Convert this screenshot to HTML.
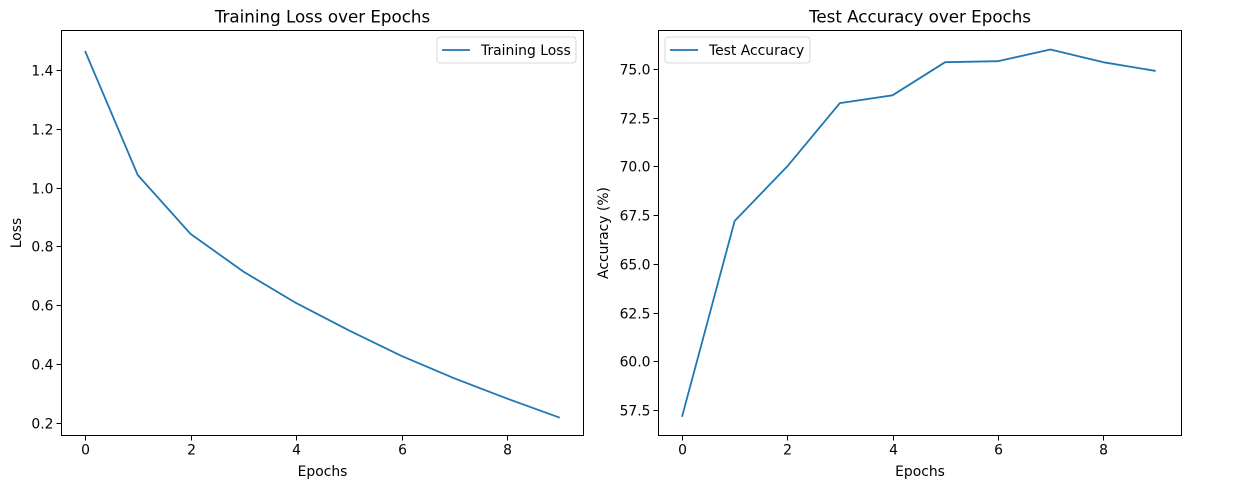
<!DOCTYPE html>
<html><head><meta charset="utf-8"><style>
body{margin:0;background:#fff;}
svg{display:block;font-family:"DejaVu Sans","Liberation Sans",sans-serif;}
</style></head><body>
<svg id="c" width="1241" height="494"></svg>
<script>
const epochs=[0,1,2,3,4,5,6,7,8,9];
const lossValues=[1.465,1.043,0.843,0.715,0.608,0.515,0.428,0.352,0.283,0.218];
const accValues=[57.15,67.2,70.0,73.25,73.65,75.35,75.4,76.0,75.35,74.9];
const xTicks=[0,2,4,6,8];
const lossTicks=[0.2,0.4,0.6,0.8,1.0,1.2,1.4];
const accTicks=[57.5,60.0,62.5,65.0,67.5,70.0,72.5,75.0];
const NS='http://www.w3.org/2000/svg';
const svg=document.getElementById('c');
function mk(t,a,p){const e=document.createElementNS(NS,t);for(const k in a)e.setAttribute(k,a[k]);(p||svg).appendChild(e);return e;}
function panel(o){
  const g=mk('g',{});
  
  
  const L=o.L,R=o.R,T=30.5,B=435.5;
  const xs=v=>o.x0+(v-0)*(o.x8-o.x0)/8;
  const ys=v=>o.ya+(v-o.va)*(o.yb-o.ya)/(o.vb-o.va);
  xTicks.forEach(t=>{
    const x=Math.round(xs(t))+0.5;
    const l=mk('line',{x1:x,x2:x,y1:B,y2:B+5,stroke:'#000','stroke-width':1},g);
    
    const tx=mk('text',{x:x,y:B+19,'font-size':13.9,'text-anchor':'middle'},g);tx.textContent=t;
    
  });
  o.ticks.forEach(t=>{
    const y=Math.round(ys(t))+0.5;
    const l=mk('line',{x1:L-5,x2:L,y1:y,y2:y,stroke:'#000','stroke-width':1},g);
    
    const tx=mk('text',{x:L-8,y:y+5,'font-size':13.9,'text-anchor':'end'},g);tx.textContent=t.toFixed(1);
    
  });
  const pts=epochs.map((e,i)=>xs(e)+','+ys(o.vals[i])).join(' ');
  const pl=mk('polyline',{points:pts,fill:'none',stroke:'#1f77b4','stroke-width':1.8,'stroke-linejoin':'round'},g);
  
  const fr=mk('rect',{x:L,y:T,width:R-L,height:B-T,fill:'none',stroke:'#000','stroke-width':1},g);
  
  const ti=mk('text',{x:(L+R)/2,y:T-8,'font-size':16.7,'text-anchor':'middle'},g);ti.textContent=o.title;
  
  const xl=mk('text',{x:(L+R)/2,y:476,'font-size':13.9,'text-anchor':'middle'},g);xl.textContent='Epochs';
  
  const yl=mk('text',{x:0,y:0,'font-size':13.9,'text-anchor':'middle',transform:`translate(${o.ylx},${(T+B)/2}) rotate(-90)`},g);yl.textContent=o.ylabel;
  
  const lg=mk('g',{},g);
  
  mk('rect',{x:o.lgx,y:37,width:o.lgw,height:26,rx:3,fill:'#fff',stroke:'#ccc','stroke-width':0.8},lg);
  mk('line',{x1:o.lgx+5,x2:o.lgx+33,y1:50,y2:50,stroke:'#1f77b4','stroke-width':1.8},lg);
  const lt=mk('text',{x:o.lgx+44,y:55,'font-size':13.9},lg);lt.textContent=o.label;
}
panel({name:'training-loss-panel',L:61.5,R:583.5,x0:85,x8:507,ya:423,va:0.2,yb:70,vb:1.4,ticks:lossTicks,vals:lossValues,title:'Training Loss over Epochs',ylabel:'Loss',ylx:21,lgx:437,lgw:139,label:'Training Loss'});
panel({name:'test-accuracy-panel',L:658.5,R:1181.5,x0:682,x8:1103,ya:410,va:57.5,yb:69,vb:75,ticks:accTicks,vals:accValues,title:'Test Accuracy over Epochs',ylabel:'Accuracy (%)',ylx:608,lgx:665,lgw:145,label:'Test Accuracy'});
</script>
</body></html>
